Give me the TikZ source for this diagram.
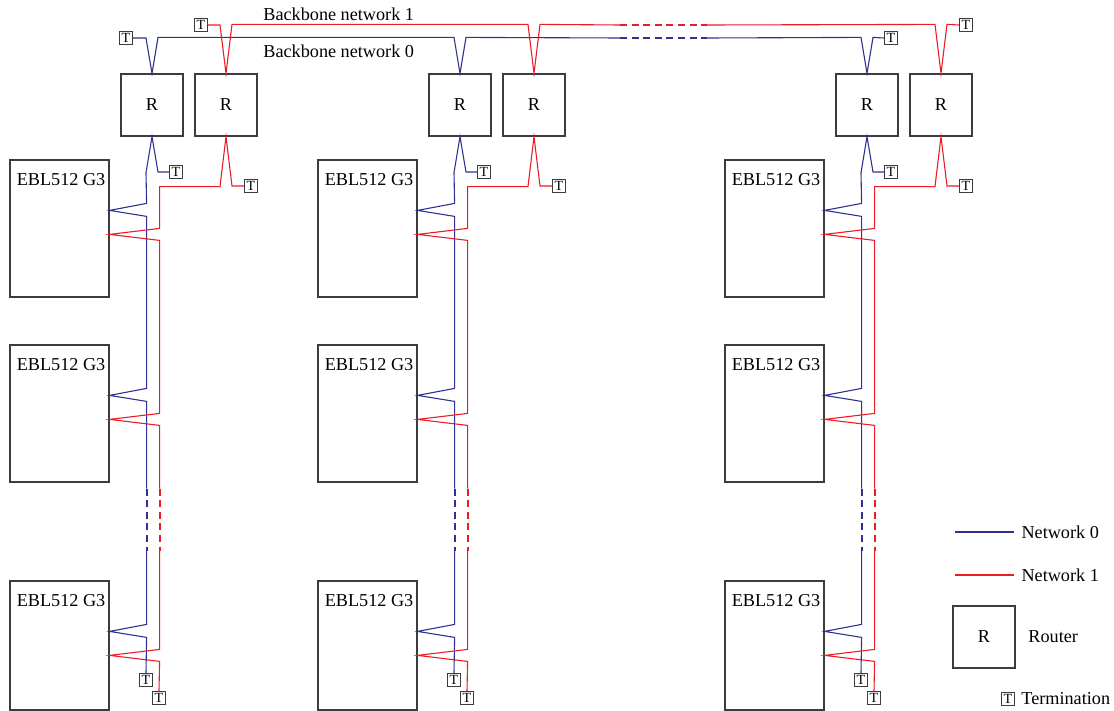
\documentclass[tikz,border=0pt]{standalone}
\usepackage{fontspec}
\setmainfont{Liberation Serif}
\usepackage{tikz}
\usetikzlibrary{positioning,calc}

\definecolor{netzero}{RGB}{46,49,146}
\definecolor{netone}{RGB}{237,28,36}
\definecolor{boxgray}{RGB}{60,60,60}

\begin{document}
\begin{tikzpicture}[
  x=0.5pt, y=-0.5pt,
  every node/.style={font=\fontsize{9.1}{11}\selectfont},
  router/.style={draw=boxgray, line width=0.6pt, minimum width=31pt, minimum height=31pt, inner sep=0pt},
  eblbox/.style={draw=boxgray, line width=0.6pt, minimum width=49.5pt, minimum height=68.5pt, inner sep=0pt,
    label={[anchor=west, inner sep=0pt, xshift=3.5pt, yshift=-10pt]north west:EBL512 G3}},
  termbox/.style={draw=boxgray, line width=0.5pt, font=\fontsize{7}{8}\selectfont, minimum size=6.5pt, inner sep=0.3pt},
  netzero/.style={draw=netzero, line width=0.55pt},
  netone/.style={draw=netone, line width=0.55pt},
  gapdash/.style={line width=1pt, dash pattern=on 3.5pt off 2.3pt}
]
\useasboundingbox (0,0) rectangle (1114,711);

% Three sites
\foreach \g/\dx in {a/0, b/308, c/715} {
  \node[router] (r0\g) at (152+\dx,105) {R};
  \node[router] (r1\g) at (226+\dx,105) {R};
  \node[eblbox] (e1\g) at (59.5+\dx,228.5) {};
  \node[eblbox] (e2\g) at (59.5+\dx,413.5) {};
  \node[eblbox, minimum height=64.5pt] (e3\g) at (59.5+\dx,645.5) {};
  \node[termbox] (t0\g) at (176+\dx,172) {T};
  \node[termbox] (t1\g) at (251+\dx,186) {T};
  \node[termbox] (b0\g) at (146+\dx,680) {T};
  \node[termbox] (b1\g) at (159+\dx,698) {T};

  % Network 0 drop
  \draw[netzero] (t0\g.west) -- ++(-11,0) -- (r0\g.south) -- ++(-6,36)
    -- ($(e1\g.north east)+(37,44)$) -- ($(e1\g.north east)+(0,51)$) -- ++(37,6)
    -- ($(e2\g.north east)+(37,44)$) -- ($(e2\g.north east)+(0,51)$) -- ++(37,6)
    -- ($(e2\g.south east)+(37,6)$) coordinate (d0\g);
  \draw[netzero, gapdash] (d0\g) -- ++(0,62) coordinate (f0\g);
  \draw[netzero] (f0\g) -- ($(e3\g.north east)+(37,44)$) -- ($(e3\g.north east)+(0,51)$)
    -- ++(37,6) -- (b0\g.north);

  % Network 1 drop
  \draw[netone] (t1\g.west) -- ++(-12,0) -- (r1\g.south) -- ++(-6,50)
    -| ($(e1\g.north east)+(50,69)$) -- ($(e1\g.north east)+(0,75)$) -- ++(50,6)
    -- ($(e2\g.north east)+(50,69)$) -- ($(e2\g.north east)+(0,75)$) -- ++(50,6)
    -- ($(e2\g.south east)+(50,6)$) coordinate (d1\g);
  \draw[netone, gapdash] (d1\g) -- ++(0,62) coordinate (f1\g);
  \draw[netone] (f1\g) -- ($(e3\g.north east)+(50,69)$) -- ($(e3\g.north east)+(0,75)$)
    -- ++(50,6) -- (b1\g.north);
}

% Backbone terminations
\node[termbox] (tt0a) at (126,38) {T};
\node[termbox] (tt1a) at (201,25) {T};
\node[termbox] (tt0c) at (891,38) {T};
\node[termbox] (tt1c) at (966,25) {T};
\coordinate (g0s) at (620,38);
\coordinate (g0e) at (707,38);
\coordinate (g1s) at (620,25);
\coordinate (g1e) at (707,25);

% Backbone network 0
\draw[netzero] (tt0a.east) -- ++(13,0) -- (r0a.north) -- ++(6,-36)
  -- ($(r0b.north)+(-6,-36)$) -- (r0b.north) -- ++(6,-36) -- (g0s);
\draw[netzero, gapdash] (g0s) -- (g0e);
\draw[netzero] (g0e) -- ($(r0c.north)+(-6,-36)$) -- (r0c.north) -- ++(6,-36) -- (tt0c.west);

% Backbone network 1
\draw[netone] (tt1a.east) -- ++(12,0) -- (r1a.north) -- ++(6,-49)
  -- ($(r1b.north)+(-6,-49)$) -- (r1b.north) -- ++(6,-49) -- (g1s);
\draw[netone, gapdash] (g1s) -- (g1e);
\draw[netone] (g1e) -- ($(r1c.north)+(-6,-49)$) -- (r1c.north) -- ++(6,-49) -- (tt1c.west);

\node[anchor=west, inner sep=0pt] (bb1) at (263,14) {Backbone network 1};
\node[anchor=west, inner sep=0pt] (bb0) at (263,51) {Backbone network 0};

% Legend
\coordinate (l0s) at (955,532);
\coordinate (l0e) at (1014,532);
\coordinate (l1s) at (955,575);
\coordinate (l1e) at (1014,575);
\draw[netzero] (l0s) -- (l0e) node[right=3.5pt, inner sep=0pt] {Network 0};
\draw[netone] (l1s) -- (l1e) node[right=3.5pt, inner sep=0pt] {Network 1};
\node[router] (rleg) at (984,637) {R};
\node[anchor=west, inner sep=0pt] at (1028,637) {Router};
\node[termbox] (tleg) at (1008,699) {T};
\node[anchor=west, inner sep=0pt] at (1021,699) {Termination};

\end{tikzpicture}
\end{document}
